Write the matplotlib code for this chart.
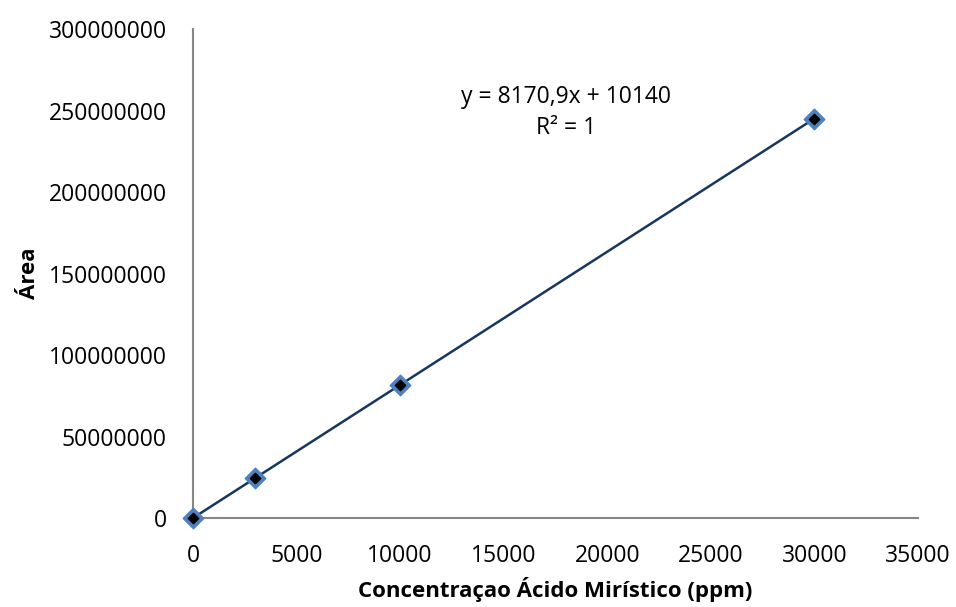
import numpy as np
import matplotlib
matplotlib.use("Agg")
import matplotlib.pyplot as plt

# calibration points
conc_ppm = [0, 3000, 10000, 30000]
area = [0, 24500000, 81700000, 245100000]

x_ticks = [0, 5000, 10000, 15000, 20000, 25000, 30000, 35000]
y_ticks = [0, 50000000, 100000000, 150000000, 200000000, 250000000, 300000000]

equation_text = "y = 8170,9x + 10140"
r2_text = "R² = 1"

plt.rcParams['font.family'] = ['Open Sans', 'DejaVu Sans']

fig = plt.figure(figsize=(9.56, 6.07), dpi=100)
ax = fig.add_axes([0.2019, 0.1466, 0.7584, 0.8056])

# linear trendline
slope, intercept = np.polyfit(conc_ppm, area, 1)
xs = np.array([min(conc_ppm), max(conc_ppm)])
ax.plot(xs, slope * xs + intercept, color="#17375E", linewidth=1.8, zorder=2)

# Excel-style diamond markers: blue outer, black inner
ax.scatter(conc_ppm, area, marker="D", s=110, color="#4F81BD", zorder=3, clip_on=False)
ax.scatter(conc_ppm, area, marker="D", s=28, color="black", zorder=4, clip_on=False)

ax.set_xlim(0, 35000)
ax.set_ylim(0, 300000000)
ax.set_xticks(x_ticks)
ax.set_yticks(y_ticks)
ax.set_xticklabels([str(v) for v in x_ticks])
ax.set_yticklabels([str(v) for v in y_ticks])
ax.tick_params(axis="both", length=0, labelsize=16.5, colors="black")
ax.tick_params(axis="y", pad=19)
ax.tick_params(axis="x", pad=19)

for side in ["top", "right"]:
    ax.spines[side].set_visible(False)
for side in ["left", "bottom"]:
    ax.spines[side].set_color("#868686")
    ax.spines[side].set_linewidth(1.5)

ax.set_xlabel("Concentraçao Ácido Mirístico (ppm)", fontsize=16, fontweight="bold")
ax.xaxis.set_label_coords(0.5, -0.147)
ax.xaxis.label.set_verticalalignment("center")
ax.set_ylabel("Área", fontsize=16, fontweight="bold")
ax.yaxis.set_label_coords(-0.225, 0.5)
ax.yaxis.label.set_verticalalignment("center")

ax.text(0.515, 0.861, equation_text, transform=ax.transAxes, ha="center", va="center", fontsize=16.5)
ax.text(0.515, 0.798, r2_text, transform=ax.transAxes, ha="center", va="center", fontsize=16.5)

fig.savefig("out.png", dpi=100)
